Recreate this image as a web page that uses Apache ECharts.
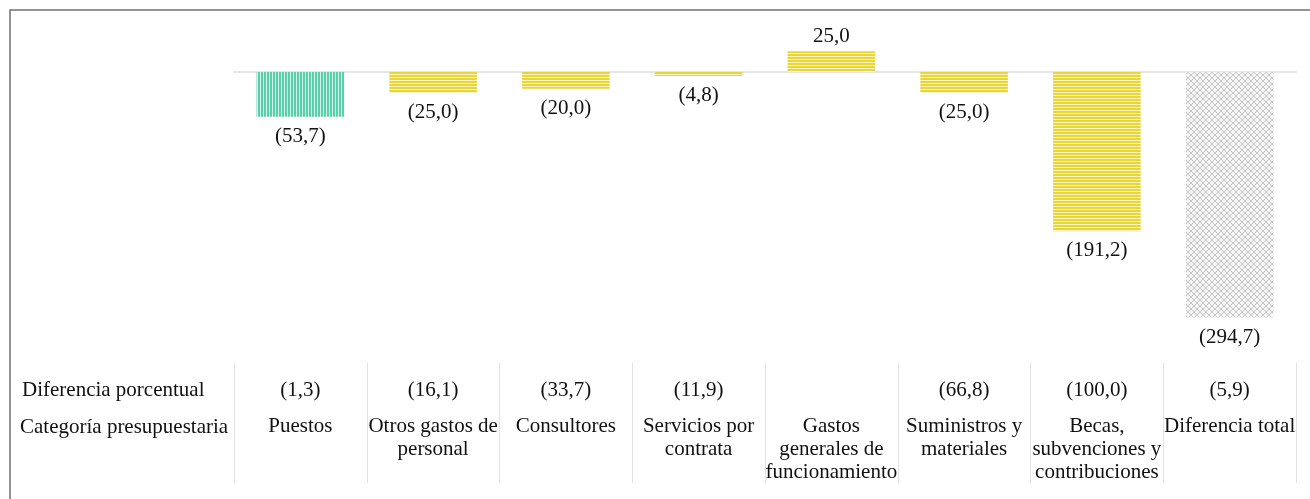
<!DOCTYPE html>
<html>
<head>
<meta charset="utf-8">
<script src="https://cdn.jsdelivr.net/npm/echarts@6/dist/echarts.min.js"></script>
<style>
  html, body { margin: 0; padding: 0; background: #fff; }
  #chart { width: 1310px; height: 499px; }
</style>
</head>
<body>
<div id="chart"></div>
<script>
// categorías (con saltos de línea como en la tabla)
const categories = [
  "Puestos",
  "Otros gastos de\npersonal",
  "Consultores",
  "Servicios por\ncontrata",
  "Gastos\ngenerales de\nfuncionamiento",
  "Suministros y\nmateriales",
  "Becas,\nsubvenciones y\ncontribuciones",
  "Diferencia total"
];
// diferencia (valores negativos = entre paréntesis)
const differences = [-53.7, -25.0, -20.0, -4.8, 25.0, -25.0, -191.2, -294.7];
// diferencia porcentual (null = sin valor)
const percentages = [-1.3, -16.1, -33.7, -11.9, null, -66.8, -100.0, -5.9];
const rowLabels = ["Diferencia porcentual", "Categoría presupuestaria"];

const FONT = "'Liberation Serif', 'Times New Roman', serif";

function fmt(v) {
  if (v === null || v === undefined) return "";
  const s = Math.abs(v).toFixed(1).replace(".", ",");
  return v < 0 ? "(" + s + ")" : s;
}

// patrones de relleno
function makePattern(w, h, draw) {
  const c = document.createElement("canvas");
  c.width = w;
  c.height = h;
  draw(c.getContext("2d"));
  return { image: c, repeat: "repeat" };
}
const tealStripes = makePattern(3, 3, function(ctx) {
  ctx.fillStyle = "#d2f3e8";
  ctx.fillRect(0, 0, 3, 3);
  ctx.fillStyle = "#5ccdab";
  ctx.fillRect(0, 0, 2, 3);
});
const yellowStripes = makePattern(3, 3, function(ctx) {
  ctx.fillStyle = "#fbf5c4";
  ctx.fillRect(0, 0, 3, 3);
  ctx.fillStyle = "#e8d53a";
  ctx.fillRect(0, 0, 3, 2);
});
const grayHatch = makePattern(6, 6, function(ctx) {
  ctx.fillStyle = "#f6f6f6";
  ctx.fillRect(0, 0, 6, 6);
  ctx.strokeStyle = "#c6c6c6";
  ctx.lineWidth = 1;
  ctx.beginPath();
  ctx.moveTo(0, 0); ctx.lineTo(6, 6);
  ctx.moveTo(6, 0); ctx.lineTo(0, 6);
  ctx.stroke();
});

const chart = echarts.init(document.getElementById("chart"));

chart.setOption({
  animation: false,
  grid: { left: 234, right: 14, top: 47, height: 275 },
  xAxis: [
    {
      type: "category",
      data: categories,
      position: "top",
      axisLine: { onZero: true, lineStyle: { color: "#e6e6e6", width: 2 } },
      axisTick: { show: false },
      axisLabel: { show: false }
    },
    {
      type: "category",
      data: categories,
      position: "bottom",
      offset: 41,
      axisLine: { show: false },
      axisTick: { show: true, length: 120, lineStyle: { color: "#e2e2e2", width: 1 } },
      axisLabel: {
        interval: 0,
        margin: 2,
        color: "#111",
        fontFamily: FONT,
        fontSize: 21,
        formatter: function(value, idx) {
          const p = fmt(percentages[idx]) || " ";
          return "{p|" + p + "}\n{c|" + value.split("\n").join("}\n{c|") + "}";
        },
        rich: {
          p: { fontFamily: FONT, fontSize: 21, lineHeight: 50, color: "#111" },
          c: { fontFamily: FONT, fontSize: 21, lineHeight: 23, color: "#111" }
        }
      }
    }
  ],
  yAxis: {
    type: "value",
    min: -300,
    max: 30,
    show: false,
    splitLine: { show: false }
  },
  series: [
    {
      type: "bar",
      barWidth: "66%",
      data: differences.map(function(v, i) {
        let pattern = yellowStripes;
        if (i === 0) pattern = tealStripes;
        if (i === differences.length - 1) pattern = grayHatch;
        return {
          value: v,
          itemStyle: { color: pattern },
          label: { distance: v < 0 ? 9 : 4 }
        };
      }),
      label: {
        show: true,
        position: "outside",
        color: "#111",
        fontFamily: FONT,
        fontSize: 21,
        formatter: function(p) { return fmt(p.value); }
      }
    }
  ],
  graphic: [
    {
      type: "rect",
      shape: { x: 10, y: 10, width: 1320, height: 520 },
      style: { fill: null, stroke: "#707070", lineWidth: 1.5 },
      silent: true
    },
    {
      type: "text",
      left: 22,
      top: 380,
      style: { text: rowLabels[0], font: "21px " + FONT, fill: "#111" }
    },
    {
      type: "text",
      left: 20,
      top: 417,
      style: { text: rowLabels[1], font: "21px " + FONT, fill: "#111" }
    }
  ]
});
</script>
</body>
</html>
